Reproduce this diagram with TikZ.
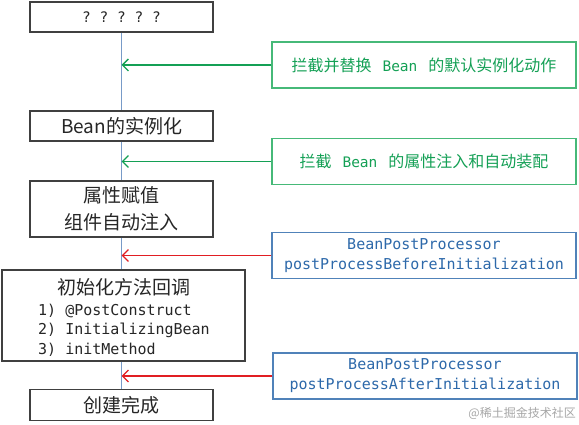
\documentclass[tikz,border=0pt]{standalone}
\usepackage{fontspec}
\setmainfont{Noto Sans CJK SC}
\setmonofont{DejaVu Sans Mono}
\usetikzlibrary{arrows.meta,backgrounds}
\definecolor{boxgray}{RGB}{64,64,64}
\definecolor{txtgray}{RGB}{38,38,38}
\definecolor{gborder}{RGB}{70,185,120}
\definecolor{gtext}{RGB}{20,160,85}
\definecolor{bborder}{RGB}{80,130,185}
\definecolor{btext}{RGB}{45,105,170}
\definecolor{redarr}{RGB}{225,30,35}
\definecolor{vline}{RGB}{120,155,200}
\newcommand{\gbean}{\hspace{11pt}{\ttfamily\fontsize{14.5}{20}\selectfont Bean}\hspace{11pt}}
\begin{document}
\begin{tikzpicture}[x=1pt,y=-1pt,
  stagebox/.style={draw=boxgray, line width=1.4pt, fill=white, inner sep=0pt,
    text=txtgray, font=\fontsize{19}{27}\selectfont, align=center, minimum width=183pt},
  notebox/.style={line width=1.2pt, fill=white, inner sep=0pt, minimum width=304pt, minimum height=46pt, align=center},
  greenbox/.style={notebox, draw=gborder, text=gtext, font=\fontsize{16}{20}\selectfont},
  bluebox/.style={notebox, draw=bborder, text=btext, font=\ttfamily\fontsize{15}{20}\selectfont},
  garrow/.style={draw=gtext, line width=1.4pt, -{Straight Barb[length=6pt,width=12pt]}},
  rarrow/.style={draw=redarr, line width=1.4pt, -{Straight Barb[length=6pt,width=12pt]}},
  plain/.style={inner sep=0pt}
]
\useasboundingbox (0,0) rectangle (579,425);
% stages
\node[stagebox, minimum height=30pt, font=\ttfamily\fontsize{14.5}{18}\selectfont] (b1) at (121.5,17) {? ? ? ? ?};
\node[stagebox, minimum height=30pt] (b2) at (121.5,126) {Bean的实例化};
\node[stagebox, minimum height=56pt] (b3) at (121.5,209) {属性赋值\\组件自动注入};
\node[stagebox, minimum width=243pt, minimum height=91pt] (b4) at (123.5,315.5) {};
\node[plain, text=txtgray, font=\fontsize{19}{24}\selectfont] (b4h) at (124,287) {初始化方法回调};
\node[plain, text=txtgray, align=left, font=\ttfamily\fontsize{15}{19.5}\selectfont] (b4l) at (124,330) {1) @PostConstruct\\2) InitializingBean\\3) initMethod};
\node[stagebox, minimum height=31pt] (b5) at (121.5,405) {创建完成};
% timeline
\begin{scope}[on background layer]
\draw[vline, line width=1.3pt] (b1.south) -- (b5.north);
\end{scope}
% notes
\node[greenbox] (g1) at (424,65) {拦截并替换\gbean 的默认实例化动作};
\node[greenbox] (g2) at (424,161.5) {拦截\gbean 的属性注入和自动装配};
\node[bluebox] (p1) at (424,255.5) {BeanPostProcessor\\postProcessBeforeInitialization};
\node[bluebox] (p2) at (425,376) {BeanPostProcessor\\postProcessAfterInitialization};
% arrows
\draw[garrow] (g1.west) -- (g1.west -| b1.south);
\draw[garrow] (g2.west) -- (g2.west -| b1.south);
\draw[rarrow] (p1.west) -- (p1.west -| b1.south);
\draw[rarrow] (p2.west) -- (p2.west -| b1.south);
% watermark
\node[plain, anchor=east, text=black!35, font=\fontsize{12}{14}\selectfont] (wm) at (576,413) {@稀土掘金技术社区};
\end{tikzpicture}
\end{document}
